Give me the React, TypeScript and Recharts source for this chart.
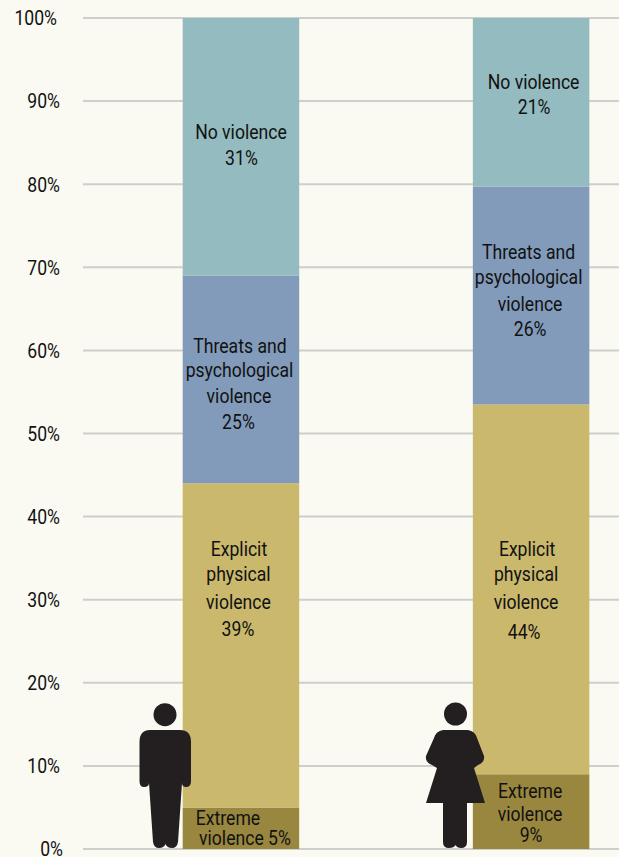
import React from "react"
import { BarChart, Bar, XAxis, YAxis, CartesianGrid, LabelList } from "recharts"

const groups = ["Men", "Women"]
const extreme = [5, 9]
const explicit = [39, 44.5]
const threats = [25, 26.2]
const none = [31, 20.3]
const yTicks = [0, 10, 20, 30, 40, 50, 60, 70, 80, 90, 100]

const extremeText = [["Extreme", "violence 5%"], ["Extreme", "violence", "9%"]]
const explicitText = [
  ["Explicit", "physical", "violence", "39%"],
  ["Explicit", "physical", "violence", "44%"],
]
const threatsText = [
  ["Threats and", "psychological", "violence", "25%"],
  ["Threats and", "psychological", "violence", "26%"],
]
const noneText = [["No violence", "31%"], ["No violence", "21%"]]

// line offsets from the middle of each segment
const extremeDy = [[-10, 10], [-20, 3, 24]]
const explicitDy = [[-96, -71, -43, -16], [-40, -15, 13, 43]]
const threatsDy = [[-33, -9, 17, 43], [-43, -18, 9, 34]]
const noneDy = [[-14, 12], [-20, 5]]
const extremeDx = [[-13, 4], [-1, -1, 0]]
const explicitDx = [[-2, -2.5, -2.5, -3], [-4, -5, -5, -7]]
const threatsDx = [[-1, -1.5, -2, -2.5], [-2.5, -2.5, -1, -1]]
const noneDx = [[0, 0.5], [2.5, 3]]

const data = groups.map((g, i) => ({
  group: g,
  extreme: extreme[i],
  explicit: explicit[i],
  threats: threats[i],
  none: none[i],
}))

const BG = "#FAFAF2"
const INK = "#111111"
const NARROW = 0.88

function Narrow({ x, y, anchor, children }: any) {
  return (
    <text
      transform={`translate(${x},${y}) scale(${NARROW},1)`}
      textAnchor={anchor}
      dominantBaseline="central"
      fontFamily="Roboto"
      fontSize={20}
      fill={INK}
    >
      {children}
    </text>
  )
}

function segmentLabel(text: string[][], dy: number[][], dx: number[][]) {
  return (props: any) => {
    const { x, y, width, height, index } = props
    const cx = Number(x) + Number(width) / 2
    const cy = Number(y) + Number(height) / 2
    return (
      <g>
        {text[index].map((line, i) => (
          <Narrow key={i} x={cx + dx[index][i]} y={cy + dy[index][i]} anchor="middle">
            {line}
          </Narrow>
        ))}
      </g>
    )
  }
}

function YTick({ x, y, payload }: any) {
  // the source labels drift a little at both ends of the axis
  const shift = payload.value === 100 ? -3 : payload.value === 0 ? 3 : 0
  return (
    <Narrow x={x + shift} y={y + 1} anchor="end">
      {payload.value}%
    </Narrow>
  )
}

function Figures() {
  return (
    <svg width={619} height={857} style={{ position: "absolute", left: 0, top: 0 }}>
      <g fill="#231F20">
        <circle cx={165} cy={714.7} r={11.5} />
        <path d="M150 730 H180 Q191 730 191 742 V781 Q191 787 186 787 Q182 787 182 783 L178 842 Q177 848 172 848 Q167 848 165.5 844 Q164 848 159 848 Q154 848 153 842 L149 783 Q149 787 144 787 Q139.5 787 139.5 781 V742 Q139.5 730 150 730 Z" />
        <circle cx={455.5} cy={714} r={11.5} />
        <path d="M443 730 H468 Q475 731 477 738 L484 756 Q485 762 478 765 L474 768 L485 803 H467 V842 Q467 848 461 848 Q457 848 455.5 845 Q454 848 449 848 Q443 848 443 842 V803 H426 L437 768 L432 765 Q425 762 426 756 L434 738 Q436 731 443 730 Z" />
      </g>
    </svg>
  )
}

export default function App() {
  return (
    <div style={{ position: "absolute", left: 0, top: 0, width: 619, height: 857, overflow: "hidden", background: BG }}>
      <BarChart
        width={690}
        height={857}
        data={data}
        stackOffset="none"
        margin={{ top: 18, right: 14, bottom: 8, left: 0 }}
        barSize={116.5}
      >
        <CartesianGrid horizontal vertical={false} stroke="#CDCFCC" strokeWidth={2} />
        <XAxis dataKey="group" hide padding={{ left: 12.7, right: 0 }} />
        <YAxis
          width={83}
          domain={[0, 100]}
          ticks={yTicks}
          interval={0}
          axisLine={false}
          tickLine={false}
          tick={<YTick />}
          tickMargin={17}
        />
        <Bar dataKey="extreme" stackId="a" fill="#99873F" isAnimationActive={false}>
          <LabelList dataKey="extreme" content={segmentLabel(extremeText, extremeDy, extremeDx)} />
        </Bar>
        <Bar dataKey="explicit" stackId="a" fill="#CAB86C" isAnimationActive={false}>
          <LabelList dataKey="explicit" content={segmentLabel(explicitText, explicitDy, explicitDx)} />
        </Bar>
        <Bar dataKey="threats" stackId="a" fill="#829BBA" isAnimationActive={false}>
          <LabelList dataKey="threats" content={segmentLabel(threatsText, threatsDy, threatsDx)} />
        </Bar>
        <Bar dataKey="none" stackId="a" fill="#94BBBF" isAnimationActive={false}>
          <LabelList dataKey="none" content={segmentLabel(noneText, noneDy, noneDx)} />
        </Bar>
      </BarChart>
      <Figures />
    </div>
  )
}
